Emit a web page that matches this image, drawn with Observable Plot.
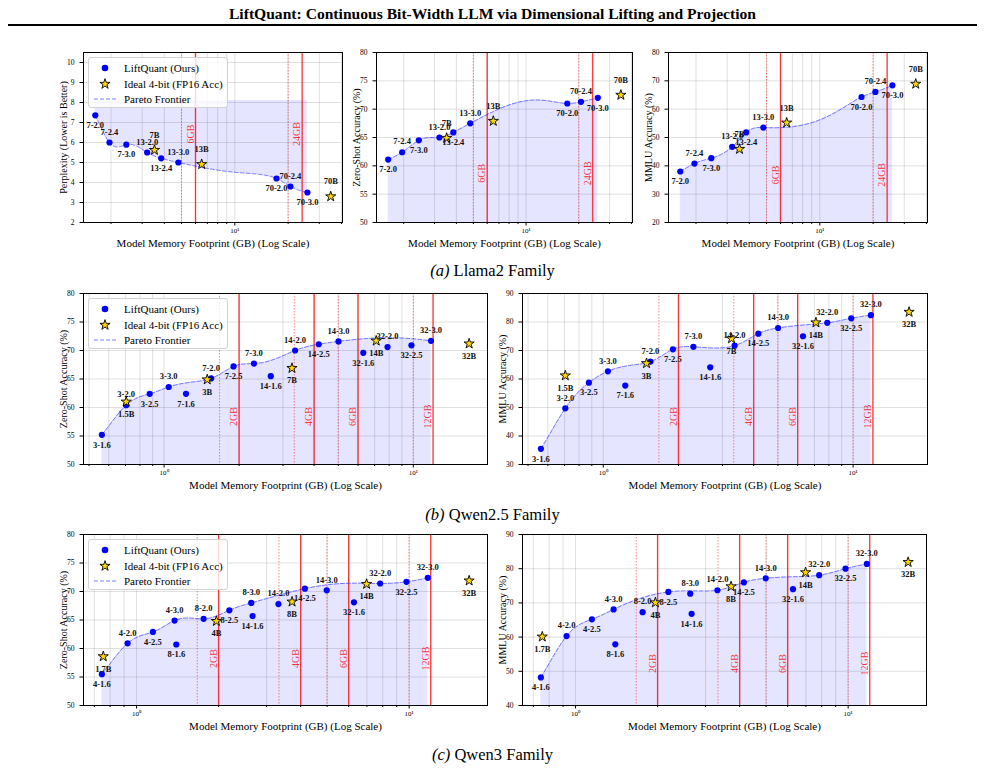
<!DOCTYPE html>
<html><head><meta charset="utf-8">
<script src="https://cdn.jsdelivr.net/npm/d3@7"></script>
<script src="https://cdn.jsdelivr.net/npm/@observablehq/plot@0.6"></script>
<style>
body{margin:0;background:#fff;}
#root{position:relative;width:985px;height:783px;overflow:hidden;font-family:"Liberation Serif","Times New Roman",serif;color:#000;background:#fff;}
.abs{position:absolute;}
.title{left:0;width:985px;top:5px;text-align:center;font-weight:bold;font-size:15.6px;line-height:18px;}
.hr{left:8px;width:969px;top:24px;height:2px;background:#000;}
.cap{left:0;width:985px;text-align:center;font-size:16.5px;line-height:20px;}
.legend{position:absolute;background:rgba(255,255,255,0.8);border:1px solid #d3d3d3;border-radius:3px;box-sizing:border-box;}
.legend .row{position:absolute;left:0;height:14px;width:100%;}
.legend .txt{position:absolute;left:35px;top:0;font-size:11px;line-height:14px;white-space:nowrap;}
.legend svg{position:absolute;left:0;top:0;}
</style></head><body><div id="root"></div>
<script>
// ---------------- DATA ----------------
// Llama2 family
const llamaLabels = ["7-2.0","7-2.4","7-3.0","13-2.0","13-2.4","13-3.0","70-2.0","70-2.4","70-3.0"];
const llamaMem    = [1.63, 1.96, 2.44, 3.2, 3.84, 4.8, 17.2, 20.6, 25.7];
const llamaPPL    = [7.36, 6.0, 5.89, 5.5, 5.21, 5.0, 4.2, 3.8, 3.5];
const llamaZS     = [61.1, 62.4, 64.5, 65.0, 65.9, 67.5, 71.0, 71.3, 72.0];
const llamaMMLU   = [38.0, 40.8, 42.7, 46.7, 51.8, 53.5, 64.3, 66.1, 68.4];
const llamaLabelPos = ["below","above","below","above","below","above","below","above","below"];
const llamaIdealLabels = ["7B","13B","70B"];
const llamaIdealMem    = [3.52, 6.5, 34.8];
const llamaIdealPPL    = [5.62, 4.91, 3.3];
const llamaIdealZS     = [64.9, 67.9, 72.5];
const llamaIdealMMLU   = [45.9, 55.2, 68.9];
const llamaIdealPos    = ["above","above","above"];

// Qwen2.5 family
const qwen25Labels = ["3-1.6","3-2.0","3-2.5","3-3.0","7-1.6","7-2.0","7-2.5","7-3.0","14-1.6","14-2.0","14-2.5","14-3.0","32-1.6","32-2.0","32-2.5","32-3.0"];
const qwen25Mem    = [0.563, 0.705, 0.876, 1.044, 1.225, 1.545, 1.90, 2.295, 2.68, 3.355, 4.175, 5.01, 6.30, 7.88, 9.83, 11.78];
const qwen25ZS     = [55.2, 60.4, 62.4, 63.6, 62.4, 65.1, 67.2, 67.7, 65.5, 70.0, 71.1, 71.6, 69.6, 70.6, 70.9, 71.7];
const qwen25MMLU   = [35.5, 49.7, 58.7, 62.7, 57.7, 66.1, 70.4, 71.3, 64.1, 71.7, 75.9, 77.9, 75.0, 79.7, 81.3, 82.4];
const qwen25IdealLabels = ["1.5B","3B","7B","14B","32B"];
const qwen25IdealMem    = [0.705, 1.49, 3.26, 7.1, 16.75];
const qwen25IdealZS     = [61.0, 64.9, 66.9, 71.7, 71.2];
const qwen25IdealMMLU   = [61.2, 65.5, 74.2, 79.8, 83.5];

// Qwen3 family
const qwen3Labels = ["4-1.6","4-2.0","4-2.5","4-3.0","8-1.6","8-2.0","8-2.5","8-3.0","14-1.6","14-2.0","14-2.5","14-3.0","32-1.6","32-2.0","32-2.5","32-3.0"];
const qwen3Mem    = [0.746, 0.927, 1.148, 1.379, 1.399, 1.762, 2.19, 2.635, 2.665, 3.315, 4.145, 4.985, 6.275, 7.83, 9.78, 11.71];
const qwen3ZS     = [55.5, 60.9, 62.9, 64.9, 60.7, 65.2, 66.7, 68.0, 65.7, 67.8, 70.5, 70.2, 68.1, 71.4, 71.7, 72.4];
const qwen3MMLU   = [48.2, 60.3, 65.2, 68.1, 57.9, 67.3, 73.2, 72.7, 66.8, 73.7, 76.0, 77.2, 74.0, 78.1, 80.0, 81.4];
const qwen3IdealLabels = ["1.7B","4B","8B","14B","32B"];
const qwen3IdealMem    = [0.755, 1.963, 3.72, 6.98, 16.6];
const qwen3IdealZS     = [58.6, 64.8, 68.2, 71.3, 71.9];
const qwen3IdealMMLU   = [60.1, 70.1, 74.8, 78.9, 81.9];

const qwenLabelPos = ["below","above","below","above","below","above","below","above","below","above","below","above","below","above","below","above"];
const qwenIdealPos = ["below","below","below","below","below"];

// memory budgets
const llamaBudgets = [6, 24];
const llamaBudgetLabels = ["6GB","24GB"];
const llamaUsable = [5, 20];
const qwenBudgets = [2, 4, 6, 12];
const qwenBudgetLabels = ["2GB","4GB","6GB","12GB"];
const qwenUsable = [1.67, 3.33, 5, 10];

// y axes
const pplTicks  = [2,3,4,5,6,7,8,9,10];
const zsTicks   = [50,55,60,65,70,75,80];
const mmluLlamaTicks = [20,30,40,50,60,70,80];
const mmluQ25Ticks   = [30,40,50,60,70,80,90];
const mmluQ3Ticks    = [40,50,60,70,80,90];

const xTitle = "Model Memory Footprint (GB) (Log Scale)";
const legendNames = ["LiftQuant (Ours)", "Ideal 4-bit (FP16 Acc)", "Pareto Frontier"];

// ---------------- DRAWING ----------------
const root = document.getElementById("root");
function addDiv(cls, html, top){ const d=document.createElement("div"); d.className="abs "+cls; d.innerHTML=html; if(top!=null) d.style.top=top+"px"; root.appendChild(d); return d; }
addDiv("title","LiftQuant: Continuous Bit-Width LLM via Dimensional Lifting and Projection");
addDiv("hr","");
addDiv("cap","<i>(a)</i> Llama2 Family",261);
addDiv("cap","<i>(b)</i> Qwen2.5 Family",505);
addDiv("cap","<i>(c)</i> Qwen3 Family",745);

function logTicks(dom){ const out=[]; for(let k=Math.floor(Math.log10(dom[0]));k<=Math.ceil(Math.log10(dom[1]));k++) for(let m=1;m<10;m++){const v=m*Math.pow(10,k); if(v>=dom[0]&&v<=dom[1]) out.push(+v.toPrecision(6));} return out; }
function xDomainOf(xs){ const lo=Math.log10(d3.min(xs)), hi=Math.log10(d3.max(xs)); const m=(hi-lo)*0.05; return [Math.pow(10,lo-m),Math.pow(10,hi+m)]; }

// second derivatives of a natural cubic spline
function naturalM(x,y){
  const n=x.length, M=new Array(n).fill(0);
  const a=[],b=[],c=[],d=[];
  for(let i=1;i<n-1;i++){
    const h0=x[i]-x[i-1], h1=x[i+1]-x[i];
    a.push(h0/6); b.push((h0+h1)/3); c.push(h1/6); d.push((y[i+1]-y[i])/h1-(y[i]-y[i-1])/h0);
  }
  const m=b.length;
  for(let i=1;i<m;i++){ const w=a[i]/b[i-1]; b[i]-=w*c[i-1]; d[i]-=w*d[i-1]; }
  const s=new Array(m);
  if(m){ s[m-1]=d[m-1]/b[m-1]; for(let i=m-2;i>=0;i--) s[i]=(d[i]-c[i]*s[i+1])/b[i]; }
  for(let i=0;i<m;i++) M[i+1]=s[i];
  return M;
}
// curve factory: natural spline computed in linear-memory space (as the original's smoothing), drawn on the log axis
function linearSpaceNatural(toU, fromU){
  return function(context){
    return {
      _line: NaN,
      areaStart(){ this._line=0; },
      areaEnd(){ this._line=NaN; },
      lineStart(){ this._xs=[]; this._ys=[]; },
      point(x,y){ this._xs.push(+x); this._ys.push(+y); },
      lineEnd(){
        const n=this._xs.length;
        let xs=this._xs, ys=this._ys, rev=false;
        if(n>1 && xs[n-1]<xs[0]){ xs=xs.slice().reverse(); ys=ys.slice().reverse(); rev=true; }
        let path=[];
        if(n<3){ for(let i=0;i<n;i++) path.push([xs[i],ys[i]]); }
        else {
          const u=xs.map(toU), M=naturalM(u,ys);
          for(let i=0;i<n-1;i++){
            const h=u[i+1]-u[i], steps=28;
            for(let s=(i===0?0:1); s<=steps; s++){
              const t=u[i]+h*s/steps, A=(u[i+1]-t)/h, B=(t-u[i])/h;
              const yy=A*ys[i]+B*ys[i+1]+((A*A*A-A)*M[i]+(B*B*B-B)*M[i+1])*h*h/6;
              path.push([fromU(t),yy]);
            }
          }
        }
        if(rev) path.reverse();
        path.forEach((p,k)=>{ if(k===0 && !this._line) context.moveTo(p[0],p[1]); else context.lineTo(p[0],p[1]); });
        if(this._line || (this._line!==0 && n===1)) context.closePath();
        this._line = 1-this._line;
      }
    };
  };
}

function panel(c){
  const [fx0,fy0,fx1,fy1]=c.frame;
  const mL=46,mT=12,mR=14,mB=36;
  const W=fx1-fx0+mL+mR, H=fy1-fy0+mT+mB;
  const pts=c.labels.map((l,i)=>({label:l,x:c.mem[i],y:c.vals[i],pos:c.pos[i]}));
  const stars=c.idealLabels.map((l,i)=>({label:l,x:c.idealMem[i],y:c.idealVals[i],pos:c.idealPos[i]}));
  const xd=xDomainOf([...c.mem,...c.idealMem]);
  const l0=Math.log10(xd[0]), l1=Math.log10(xd[1]), span=W-mL-mR;
  const toU=sx=>Math.pow(10,l0+(sx-mL)/span*(l1-l0));
  const fromU=u=>mL+(Math.log10(u)-l0)/(l1-l0)*span;
  const curve=linearSpaceNatural(toU,fromU);
  const sorted=[...pts].sort((a,b)=>a.x-b.x);
  const front=[]; let best=c.lower?Infinity:-Infinity;
  for(const d of sorted){ if(c.lower? d.y<best : d.y>best){front.push(d);best=d.y;} }
  const base = c.lower ? 1.1*d3.max(front,d=>d.y) : c.yDomain[0];
  const yLab = c.yDomain[0]+(1-c.gbFrac)*(c.yDomain[1]-c.yDomain[0]);
  const gb = c.budgets.map((b,i)=>({x:b,label:c.budgetLabels[i],y:yLab}));
  const allT=logTicks(xd);
  const major=allT.filter(v=>Math.abs(Math.log10(v)-Math.round(Math.log10(v)))<1e-9);
  const minor=allT.filter(v=>!major.includes(v));
  const sup=["⁰","¹","²"];
  const lblStyle={text:"label",fontSize:8.5,fontWeight:"bold",fill:"#111"};
  const fig=Plot.plot({
    width:W,height:H,marginLeft:mL,marginRight:mR,marginTop:mT,marginBottom:mB,
    style:{fontFamily:'"Liberation Serif","Times New Roman",serif',background:"transparent",overflow:"visible"},
    x:{type:"log",domain:xd,label:null},
    y:{domain:c.yDomain,label:null},
    marks:[
      Plot.gridX(allT,{stroke:"#a8a8a8",strokeOpacity:0.45,strokeWidth:0.8}),
      Plot.gridY(c.yTicks,{stroke:"#a8a8a8",strokeOpacity:0.45,strokeWidth:0.8}),
      Plot.areaY(front,{x:"x",y1:base,y2:"y",curve,fill:"#0000ff",fillOpacity:0.1}),
      Plot.ruleX(c.usable,{stroke:"red",strokeOpacity:0.6,strokeWidth:0.8,strokeDasharray:"1.5,1.5"}),
      Plot.ruleX(c.budgets,{stroke:"red",strokeOpacity:0.75,strokeWidth:1.4}),
      Plot.text(gb,{x:"x",y:"y",text:"label",rotate:-90,dx:-5,fill:"red",fillOpacity:0.8,fontSize:10}),
      Plot.line(front,{x:"x",y:"y",curve,stroke:"#0000ff",strokeOpacity:0.5,strokeWidth:1,strokeDasharray:"4,2"}),
      Plot.dot(pts,{x:"x",y:"y",r:3.1,fill:"#0000ff"}),
      Plot.dot(stars,{x:"x",y:"y",symbol:"star",r:3.2,fill:"#FFD700",stroke:"#000",strokeWidth:0.9}),
      Plot.text(pts,{filter:d=>d.pos==="above",x:"x",y:"y",dy:-10.5,...lblStyle}),
      Plot.text(pts,{filter:d=>d.pos==="below",x:"x",y:"y",dy:10,...lblStyle}),
      Plot.text(stars,{filter:d=>d.pos==="above",x:"x",y:"y",dy:-15,...lblStyle}),
      Plot.text(stars,{filter:d=>d.pos==="below",x:"x",y:"y",dy:12.5,...lblStyle}),
      Plot.frame({stroke:"#000",strokeWidth:1}),
      Plot.axisY(c.yTicks,{tickSize:3.5,fontSize:7.5,label:null}),
      Plot.axisX(major,{tickSize:3.5,tickPadding:2,fontSize:7,label:null,tickFormat:v=>"10"+sup[Math.round(Math.log10(v))]}),
      Plot.axisX(minor,{tickSize:2,label:null,tickFormat:()=>""}),
      Plot.text([xTitle],{text:d=>d,frameAnchor:"bottom",lineAnchor:"middle",textAnchor:"middle",dy:20.5,fontSize:11}),
      Plot.text([c.yTitle],{text:d=>d,frameAnchor:"left",textAnchor:"middle",lineAnchor:"middle",rotate:-90,dx:-19.5,fontSize:10})
    ]
  });
  fig.style.position="absolute"; fig.style.left=(fx0-mL)+"px"; fig.style.top=(fy0-mT)+"px";
  root.appendChild(fig);
  if(c.legend) legend(fx0+5, fy0+5);
}

function legend(x,y){
  const box=document.createElement("div"); box.className="legend";
  box.style.left=x+"px"; box.style.top=y+"px"; box.style.width="140px"; box.style.height="51px";
  const markers=[
    '<circle cx="16" cy="7" r="3.3" fill="#0000ff"/>',
    '<path d="'+d3.symbol(d3.symbolStar, Math.PI*3.2*3.2)()+'" transform="translate(16,7)" fill="#FFD700" stroke="#000" stroke-width="0.9"/>',
    '<line x1="5" x2="27" y1="7" y2="7" stroke="#0000ff" stroke-opacity="0.5" stroke-dasharray="4,2"/>'
  ];
  legendNames.forEach((n,i)=>{
    const r=document.createElement("div"); r.className="row"; r.style.top=(3+i*15.5)+"px";
    r.innerHTML='<svg width="32" height="14">'+markers[i]+'</svg><div class="txt">'+n+'</div>';
    box.appendChild(r);
  });
  root.appendChild(box);
}

const llamaBase={labels:llamaLabels,mem:llamaMem,pos:llamaLabelPos,idealLabels:llamaIdealLabels,idealMem:llamaIdealMem,idealPos:llamaIdealPos,budgets:llamaBudgets,budgetLabels:llamaBudgetLabels,usable:llamaUsable};
const q25Base={labels:qwen25Labels,mem:qwen25Mem,pos:qwenLabelPos,idealLabels:qwen25IdealLabels,idealMem:qwen25IdealMem,idealPos:qwenIdealPos,budgets:qwenBudgets,budgetLabels:qwenBudgetLabels,usable:qwenUsable};
const q3Base={labels:qwen3Labels,mem:qwen3Mem,pos:qwenLabelPos,idealLabels:qwen3IdealLabels,idealMem:qwen3IdealMem,idealPos:qwenIdealPos,budgets:qwenBudgets,budgetLabels:qwenBudgetLabels,usable:qwenUsable};

panel({...llamaBase,frame:[83,52,342,222],vals:llamaPPL,idealVals:llamaIdealPPL,lower:true,yDomain:[2,10.5],yTicks:pplTicks,yTitle:"Perplexity (Lower is Better)",gbFrac:0.48,legend:true});
panel({...llamaBase,frame:[376,52,632,222],vals:llamaZS,idealVals:llamaIdealZS,yDomain:[50,80],yTicks:zsTicks,yTitle:"Zero-Shot Accuracy (%)",gbFrac:0.71});
panel({...llamaBase,frame:[668,52,927,222],vals:llamaMMLU,idealVals:llamaIdealMMLU,yDomain:[20,80],yTicks:mmluLlamaTicks,yTitle:"MMLU Accuracy (%)",gbFrac:0.72});
panel({...q25Base,frame:[83,293,487,464],vals:qwen25ZS,idealVals:qwen25IdealZS,yDomain:[50,80],yTicks:zsTicks,yTitle:"Zero-Shot Accuracy (%)",gbFrac:0.72,legend:true});
panel({...q25Base,frame:[522,293,927,464],vals:qwen25MMLU,idealVals:qwen25IdealMMLU,yDomain:[30,90],yTicks:mmluQ25Ticks,yTitle:"MMLU Accuracy (%)",gbFrac:0.72});
panel({...q3Base,frame:[83,534,487,705],vals:qwen3ZS,idealVals:qwen3IdealZS,yDomain:[50,80],yTicks:zsTicks,yTitle:"Zero-Shot Accuracy (%)",gbFrac:0.725,legend:true});
panel({...q3Base,frame:[522,534,926,705],vals:qwen3MMLU,idealVals:qwen3IdealMMLU,yDomain:[40,90],yTicks:mmluQ3Ticks,yTitle:"MMLU Accuracy (%)",gbFrac:0.755});
</script></body></html>
